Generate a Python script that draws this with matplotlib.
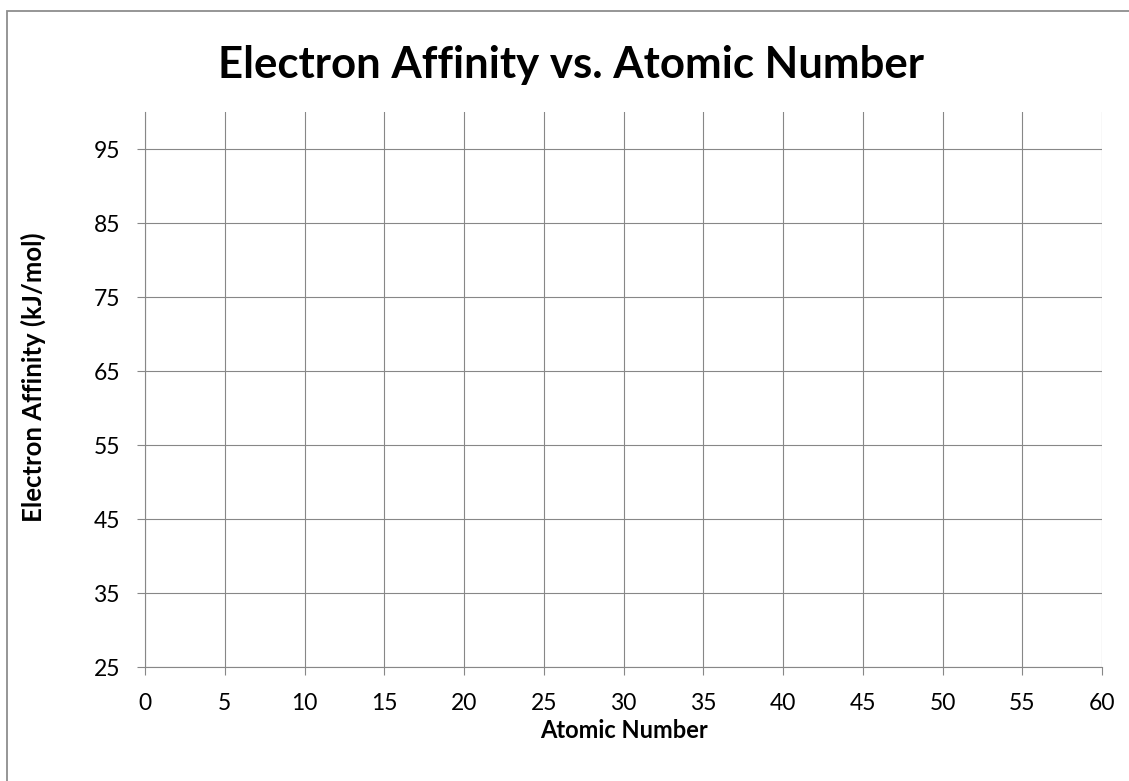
import matplotlib
matplotlib.use("Agg")
import matplotlib.pyplot as plt
from matplotlib.patches import Rectangle

# Chart content
title = "Electron Affinity vs. Atomic Number"
x_label = "Atomic Number"
y_label = "Electron Affinity (kJ/mol)"
x_ticks = [0, 5, 10, 15, 20, 25, 30, 35, 40, 45, 50, 55, 60]
y_ticks = [25, 35, 45, 55, 65, 75, 85, 95]
x_limits = [0, 60]
y_limits = [25, 100]

# No measurements entered yet
atomic_numbers = []
affinities = []

W, H = 1129, 781
gray = "#878787"

plt.rcParams["font.family"] = ["Lato", "DejaVu Sans"]

fig = plt.figure(figsize=(W / 100, H / 100), dpi=100)
fig.patch.set_facecolor("white")

# outer chart frame
fig.patches.append(Rectangle((7 / W, -0.05), 1.2, 1 - 11 / H + 0.05,
                             transform=fig.transFigure, fill=False,
                             edgecolor="#8e8e8e", linewidth=1.3))

left, right, bottom, top = 145 / W, 1102 / W, 1 - 667 / H, 1 - 112 / H
ax = fig.add_axes([left, bottom, right - left, top - bottom])

ax.plot(atomic_numbers, affinities, "o")

ax.set_xlim(*x_limits)
ax.set_ylim(*y_limits)
ax.set_xticks(x_ticks)
ax.set_yticks(y_ticks)
ax.tick_params(axis="both", direction="out", length=6, width=0.8,
               color=gray, labelsize=16.5, labelcolor="black")
ax.tick_params(axis="x", pad=13)
ax.tick_params(axis="y", pad=12)

ax.grid(True, color=gray, linewidth=0.8)
ax.set_axisbelow(True)
for side in ("top", "right"):
    ax.spines[side].set_visible(False)
for side in ("left", "bottom"):
    ax.spines[side].set_color(gray)
    ax.spines[side].set_linewidth(0.8)

fig.text(571 / W, 1 - 78 / H, title, ha="center", va="baseline",
         fontsize=31.5, fontweight="bold")
fig.text(623.5 / W, 1 - 731 / H, x_label, ha="center", va="center",
         fontsize=17, fontweight="bold")
fig.text(33 / W, 1 - 377 / H, y_label, ha="center", va="center",
         rotation=90, fontsize=18.5, fontweight="bold")

fig.savefig("out.png", dpi=100)
